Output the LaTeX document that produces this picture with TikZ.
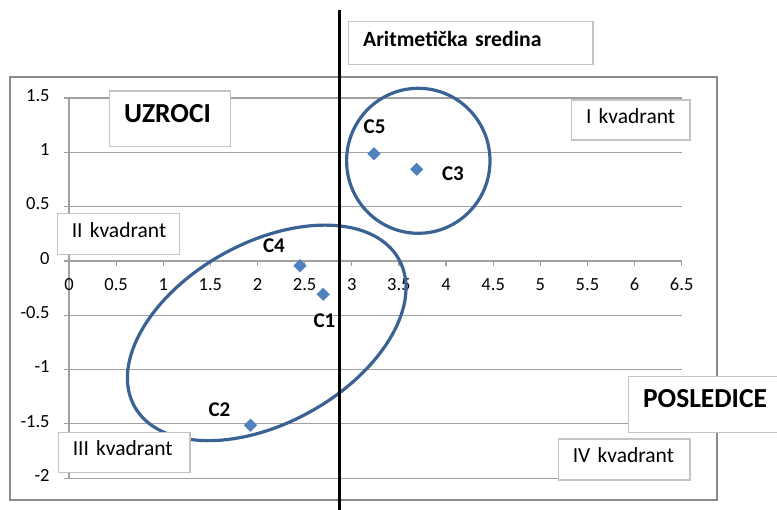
\documentclass[tikz,border=0pt]{standalone}
\usepackage{fontspec}
\setmainfont{Carlito}[WordSpace=0.75]
\usetikzlibrary{shapes.geometric}
\definecolor{gridgray}{HTML}{A0A0A0}
\definecolor{framegray}{HTML}{8A8A8A}
\definecolor{boxgray}{HTML}{C4C4C4}
\definecolor{ptblue}{HTML}{4F81BD}
\definecolor{ringblue}{HTML}{3A6394}
\begin{document}
\begin{tikzpicture}[x=1pt,y=-1pt,
  gridline/.style={draw=gridgray, line width=1.2pt},
  ticklab/.style={font=\fontsize{18.5}{20}\selectfont, text height=0.63em, text depth=0pt, inner sep=0pt},
  txtbox/.style={draw=boxgray, line width=1.2pt, fill=white, inner ysep=0pt, inner xsep=14.5pt, align=left, anchor=west, text height=0.644em, text depth=0pt},
  kvad/.style={txtbox, font=\fontsize{21.5}{23}\selectfont},
  bigbox/.style={txtbox, font=\fontsize{27.5}{30}\selectfont\bfseries},
  ring/.style={draw=ringblue, line width=3.2pt},
  datapt/.style={diamond, fill=ptblue, minimum width=13.3pt, minimum height=13.3pt, inner sep=0pt},
  clab/.style={font=\fontsize{21}{23}\selectfont\bfseries, text height=0.644em, text depth=0pt, inner sep=0pt}
]
\useasboundingbox (0,0) rectangle (777,510);
\fill[white] (0,0) rectangle (777,510);

% chart frame
\draw[framegray, line width=1.2pt] (10,77) rectangle (717,500);

% horizontal gridlines, y ticks and labels
\foreach \v/\t [evaluate=\v as \py using 261-108.6*\v, count=\i] in
  {1.5/1.5, 1/1, 0.5/0.5, 0/0, -0.5/-0.5, -1/-1, -1.5/-1.5, -2/-2} {
  \coordinate (gl\i) at (69,\py);
  \coordinate (gr\i) at (681.7,\py);
  \coordinate (gt\i) at (64,\py);
  \draw[gridline] (gt\i) -- (gl\i) -- (gr\i);
  \node[ticklab, anchor=east] (yl\i) at (49.8,\py) {\t};
}
% y axis
\draw[gridline] (gl1) -- (gl8);

% x ticks and labels
\foreach \v [evaluate=\v as \px using 69+94.26*\v, count=\i] in
  {0,0.5,1,1.5,2,2.5,3,3.5,4,4.5,5,5.5,6,6.5} {
  \coordinate (xa\i) at (\px,261);
  \coordinate (xb\i) at (\px,266);
  \draw[gridline] (xa\i) -- (xb\i);
  \node[ticklab] (xl\i) at (\px,287.6) {\v};
}

% rings
\draw[ring] (418.3,160.8) ellipse [x radius=71.7pt, y radius=72.5pt];
\draw[ring, rotate around={29.1:(266.7,332.9)}] (266.7,332.9) ellipse [x radius=151.3pt, y radius=90.1pt];

% data points
\node[datapt] (c1) at (323.2,294.3) {};
\node[datapt] (c2) at (250.5,425.2) {};
\node[datapt] (c3) at (416.7,169.3) {};
\node[datapt] (c4) at (300,265.7) {};
\node[datapt] (c5) at (374,153.7) {};
\node[clab] (l1) at (324.5,324) {C1};
\node[clab] (l2) at (219.5,413.3) {C2};
\node[clab] (l3) at (453,177.7) {C3};
\node[clab] (l4) at (274,249.5) {C4};
\node[clab] (l5) at (374.6,130) {C5};

% text boxes
\node[txtbox, font=\fontsize{21.7}{23}\selectfont\bfseries, minimum height=42.6pt, text width=215.3pt] (arit) at (348,43) {\mbox{Aritmetička sredina}};
\node[bigbox, minimum height=55.7pt, text width=92pt] (uzroci) at (109,118.8) {\mbox{UZROCI}};
\node[bigbox, minimum height=56pt, text width=119.5pt] (posl) at (628,404.7) {\mbox{POSLEDICE}};
\node[kvad, minimum height=40pt, text width=89.3pt] (k1) at (571,120) {\mbox{I kvadrant}};
\node[kvad, minimum height=41pt, text width=93.3pt] (k2) at (56.7,234) {\mbox{II kvadrant}};
\node[kvad, minimum height=40pt, text width=102.6pt] (k3) at (57.7,452.7) {\mbox{III kvadrant}};
\node[kvad, minimum height=41pt, text width=102.6pt] (k4) at (557.7,459.5) {\mbox{IV kvadrant}};

% mean line
\coordinate (mtop) at (339.3,10);
\coordinate (mbot) at (339.3,510);
\draw[black, line width=3.3pt] (mtop) -- (mbot);
\end{tikzpicture}
\end{document}
